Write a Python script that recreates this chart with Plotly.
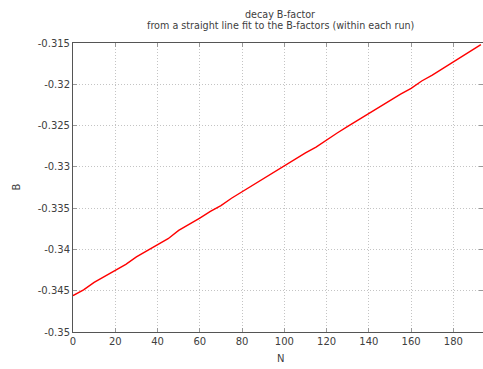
import plotly.graph_objects as go

N = [0, 5, 10, 15, 20, 25, 30, 35, 40, 45, 50, 55, 60, 65, 70, 75, 80, 85, 90, 95,
     100, 105, 110, 115, 120, 125, 130, 135, 140, 145, 150, 155, 160, 165, 170, 175,
     180, 185, 190, 193]
B = [-0.3456, -0.3449, -0.3440, -0.3433, -0.3425, -0.3418, -0.3409, -0.3402, -0.3394,
     -0.3387, -0.3377, -0.3370, -0.3362, -0.3354, -0.3347, -0.3338, -0.3330, -0.3323,
     -0.3315, -0.3307, -0.3299, -0.3291, -0.3283, -0.3276, -0.3267, -0.3259, -0.3251,
     -0.3243, -0.3236, -0.3228, -0.3219, -0.3212, -0.3205, -0.3196, -0.3189, -0.3181,
     -0.3173, -0.3165, -0.3157, -0.3152]

x_ticks = [0, 20, 40, 60, 80, 100, 120, 140, 160, 180]
y_ticks = [-0.35, -0.345, -0.34, -0.335, -0.33, -0.325, -0.32, -0.315]
y_tick_text = ["-0.35", "-0.345", "-0.34", "-0.335", "-0.33", "-0.325", "-0.32", "-0.315"]

font_family = "DejaVu Sans"
txt = "#404040"

W, H = 483, 369
L, R, T, Bm = 73, 0, 43, 37

fig = go.Figure()
fig.add_trace(go.Scatter(x=N, y=B, mode="lines",
                         line=dict(color="#ff0000", width=1.4), showlegend=False))

axis_common = dict(ticks="inside", ticklen=4, tickcolor="#999999", showline=True,
                   linecolor="#555555", linewidth=1, mirror="allticks", showgrid=True,
                   gridcolor="#c4c4c4", griddash="1px,2px", gridwidth=1, zeroline=False,
                   automargin=False, tickfont=dict(size=10, color=txt, family=font_family))

# annotation positions given in window pixels (from top-left)
labels = [
    ("decay B-factor", 280, 14, 0, 9.6),
    ("from a straight line fit to the B-factors (within each run)", 280, 26, 0, 9.6),
    ("N", 280, 358.5, 0, 10),
    ("B", 15.5, 187, -90, 10),
]
pw, ph = W - L - R, H - T - Bm
annotations = []
for text, px, py, ang, size in labels:
    annotations.append(dict(text=text, x=(px - L) / pw, y=(H - py - Bm) / ph,
                            xref="paper", yref="paper", xanchor="center", yanchor="middle",
                            showarrow=False, textangle=ang,
                            font=dict(size=size, color=txt, family=font_family)))

fig.update_layout(
    width=W, height=H,
    margin=dict(l=L, r=R, t=T, b=Bm),
    paper_bgcolor="white", plot_bgcolor="white",
    font=dict(family=font_family, size=10, color=txt),
    xaxis=dict(range=[0, 194], tickvals=x_ticks, **axis_common),
    yaxis=dict(range=[-0.35, -0.315], tickvals=y_ticks, ticktext=y_tick_text, **axis_common),
    annotations=annotations,
)

fig.write_html("out.html",
               config={"displayModeBar": False},
               post_script="document.body.style.margin='0';document.body.style.overflow='hidden';")
